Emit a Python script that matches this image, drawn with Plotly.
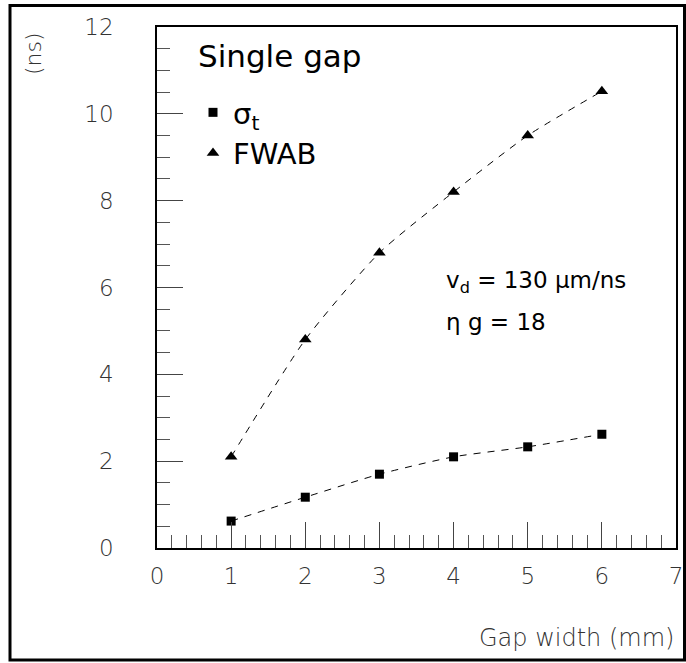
import plotly.graph_objects as go

gap_width = [1, 2, 3, 4, 5, 6]
sigma_t = [0.62, 1.17, 1.70, 2.10, 2.33, 2.62]
fwab = [2.10, 4.80, 6.80, 8.20, 9.50, 10.52]

x_ticks = [0, 1, 2, 3, 4, 5, 6, 7]
y_ticks = [0, 2, 4, 6, 8, 10, 12]

W, H = 686, 663
L, R, T, B = 157, 676, 27, 548

def px(xp):
    return (xp - L) / (R - L)

def py(yp):
    return (B - yp) / (B - T)

fig = go.Figure()
line_style = dict(color="black", width=1, dash="7px,7px", shape="spline", smoothing=0.6)
fig.add_trace(go.Scatter(x=gap_width, y=sigma_t, mode="lines", line=line_style,
                         showlegend=False, hoverinfo="skip"))
fig.add_trace(go.Scatter(x=gap_width, y=fwab, mode="lines", line=line_style,
                         showlegend=False, hoverinfo="skip"))
fig.add_trace(go.Scatter(x=gap_width, y=sigma_t, mode="markers", name="σ<sub>t</sub>",
                         marker=dict(symbol="square", size=9, color="black")))
fig.add_trace(go.Scatter(x=gap_width, y=fwab, mode="markers", name="FWAB",
                         marker=dict(symbol="triangle-up", size=11, color="black")))

thin = dict(family="DejaVu Sans", color="#333", weight=200)
tickfont = dict(size=23, **thin)
fig.update_xaxes(range=[0, 7], tickvals=x_ticks, ticks="inside", ticklen=26, tickwidth=1,
                 tickcolor="#444", showline=True, linecolor="black", linewidth=1.5,
                 mirror=True, showgrid=False, zeroline=False, tickfont=tickfont,
                 ticklabelstandoff=7, automargin=False,
                 minor=dict(dtick=0.2, ticks="inside", ticklen=13, tickcolor="#555",
                            tickwidth=1, showgrid=False))
fig.update_yaxes(range=[0, 12], tickvals=y_ticks, ticks="inside", ticklen=26, tickwidth=1,
                 tickcolor="#444", showline=True, linecolor="black", linewidth=1.5,
                 mirror=True, showgrid=False, zeroline=False, tickfont=tickfont,
                 ticklabelstandoff=37, automargin=False,
                 minor=dict(dtick=0.5, ticks="inside", ticklen=13, tickcolor="#555",
                            tickwidth=1, showgrid=False))

txt = dict(family="DejaVu Sans", color="black")
ann = dict(xref="paper", yref="paper", showarrow=False)
annotations = [
    dict(text="Single gap", x=px(196), y=py(56), xanchor="left", yanchor="middle",
         font=dict(size=31, **txt), **ann),
    dict(text="v<sub>d</sub> = 130 μm/ns", x=px(444), y=py(282), xanchor="left",
         yanchor="middle", font=dict(size=23, **txt), **ann),
    dict(text="η g = 18", x=px(444), y=py(322), xanchor="left",
         yanchor="middle", font=dict(size=23, **txt), **ann),
    dict(text="(ns)", x=px(33), y=py(54), xanchor="center", yanchor="middle",
         textangle=-90, font=dict(size=22, **thin), **ann),
    dict(text="Gap width (mm)", x=px(676), y=py(638), xanchor="right", yanchor="middle",
         font=dict(size=24, **thin), **ann),
]

shapes = [dict(type="rect", xref="paper", yref="paper",
               x0=px(10), x1=px(684.5), y0=py(660), y1=py(5.5),
               line=dict(color="black", width=3))]

fig.update_layout(
    width=W, height=H,
    margin=dict(l=L, r=W - R, t=T, b=H - B, autoexpand=False),
    plot_bgcolor="white", paper_bgcolor="white",
    annotations=annotations, shapes=shapes,
    legend=dict(x=px(193), y=py(87), xanchor="left", yanchor="top",
                font=dict(size=29, family="DejaVu Sans", color="black"),
                bgcolor="rgba(0,0,0,0)", itemwidth=30, tracegroupgap=0),
)

fig.write_html("out.html", config={"displayModeBar": False},
               post_script="document.body.style.margin='0';")
